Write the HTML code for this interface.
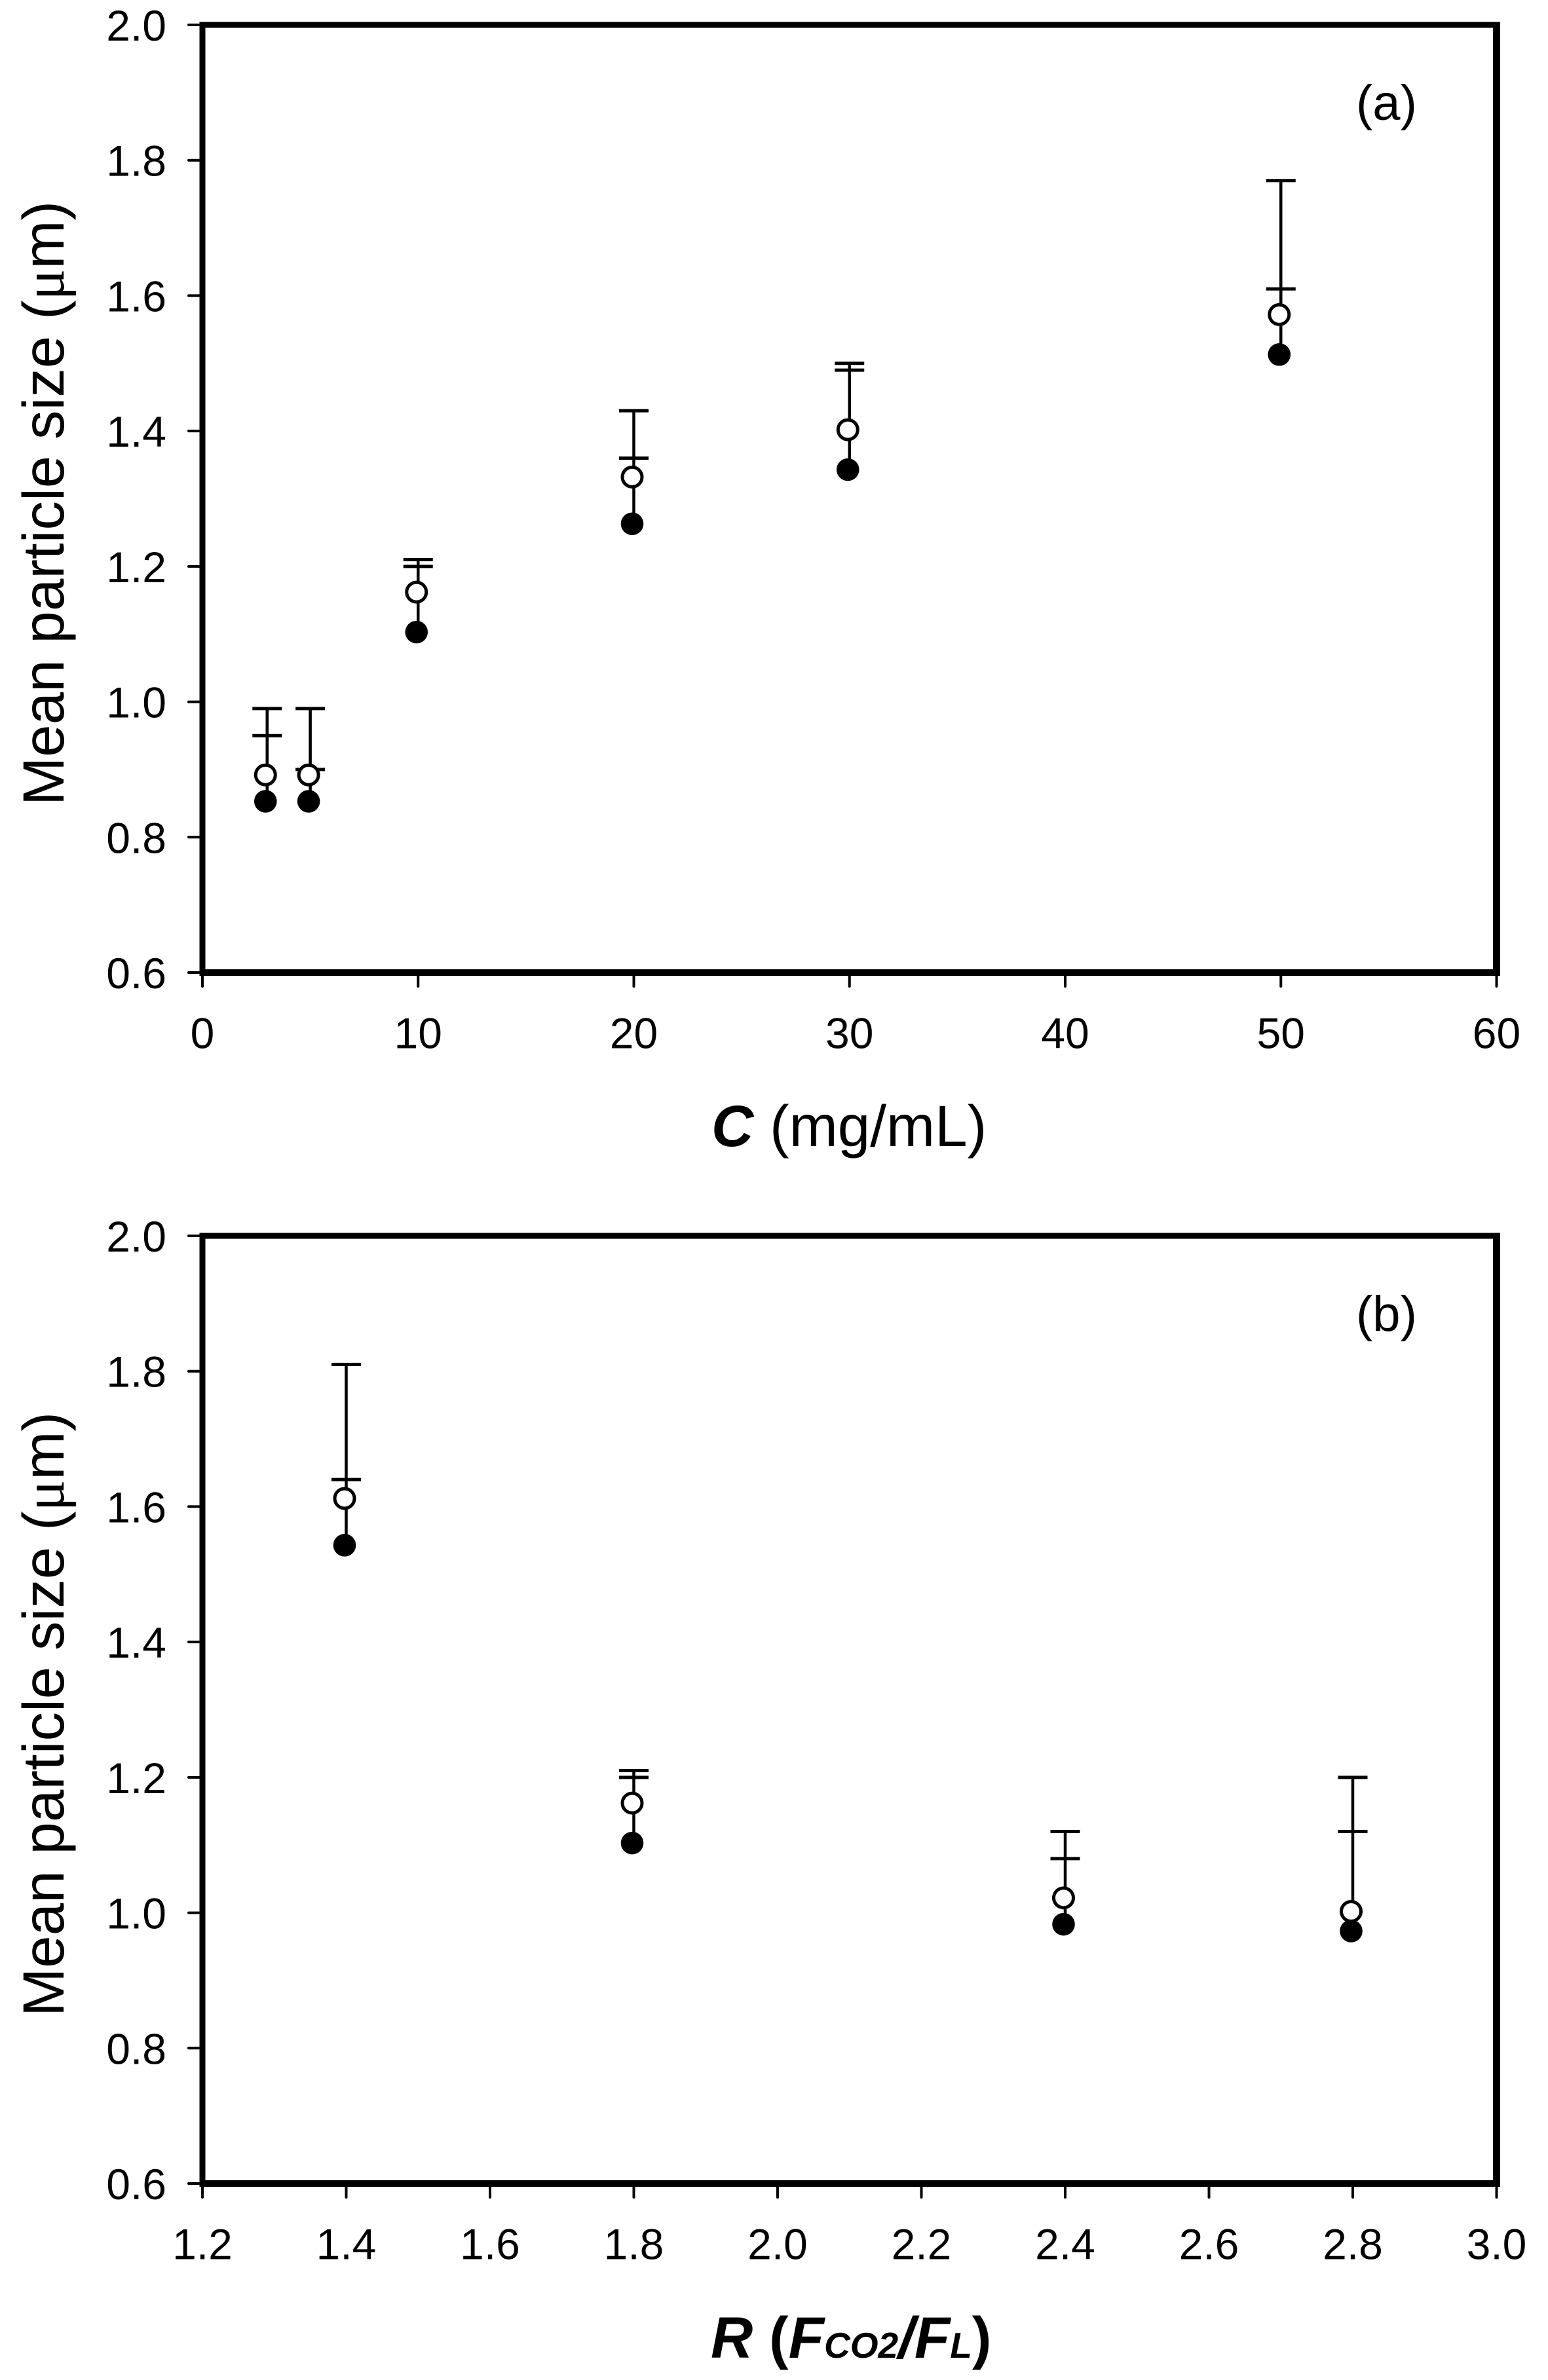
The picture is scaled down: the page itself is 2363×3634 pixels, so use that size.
<!DOCTYPE html>
<html lang="en">
<head>
<meta charset="utf-8">
<title>Mean particle size charts</title>
<style>
html,body{margin:0;padding:0;background:#fff;}
svg{display:block;font-family:"Liberation Sans",Arial,sans-serif;fill:#000;}
</style>
</head>
<body>
<svg id="figure" xmlns="http://www.w3.org/2000/svg" width="2363" height="3634" viewBox="0 0 2363 3634">
  <rect x="0" y="0" width="2363" height="3634" fill="#fff"/>
  <g id="panel-a"></g>
  <g id="panel-b"></g>

  <text transform="translate(97,1230) rotate(-90)" font-size="89">Mean particle size (<tspan font-family="'Liberation Serif',serif">μ</tspan>m)</text>
  <text x="1086" y="1750" font-size="89"><tspan font-weight="bold" font-style="italic">C</tspan> (mg/mL)</text>
  <text x="2070" y="183" font-size="76">(a)</text>

  <text transform="translate(97,3079) rotate(-90)" font-size="89">Mean particle size (<tspan font-family="'Liberation Serif',serif">μ</tspan>m)</text>
  <text x="1085" y="3600" font-size="89" font-weight="bold"><tspan font-style="italic">R</tspan> (<tspan font-style="italic">F</tspan><tspan font-style="italic" font-size="55">CO2</tspan><tspan font-style="italic">/F</tspan><tspan font-style="italic" font-size="55">L</tspan>)</text>
  <text x="2070" y="2032" font-size="76">(b)</text>
</svg>
<script>
// Shared value axis
const yTicks = [0.6, 0.8, 1.0, 1.2, 1.4, 1.6, 1.8, 2.0];
const yTickLabels = ['0.6', '0.8', '1.0', '1.2', '1.4', '1.6', '1.8', '2.0'];

// Panel (a): concentration
const aXTicks = [0, 10, 20, 30, 40, 50, 60];
const aXTickLabels = ['0', '10', '20', '30', '40', '50', '60'];
const aConcentration = [3, 5, 10, 20, 30, 50];
const aOpenSize = [0.892, 0.892, 1.162, 1.332, 1.402, 1.572];
const aFilledSize = [0.853, 0.853, 1.103, 1.263, 1.343, 1.513];
const aOpenUpper = [0.99, 0.99, 1.21, 1.43, 1.50, 1.77];
const aFilledUpper = [0.95, 0.90, 1.20, 1.36, 1.49, 1.61];

// Panel (b): flow ratio
const bXTicks = [1.2, 1.4, 1.6, 1.8, 2.0, 2.2, 2.4, 2.6, 2.8, 3.0];
const bXTickLabels = ['1.2', '1.4', '1.6', '1.8', '2.0', '2.2', '2.4', '2.6', '2.8', '3.0'];
const bRatio = [1.4, 1.8, 2.4, 2.8];
const bOpenSize = [1.612, 1.162, 1.022, 1.002];
const bFilledSize = [1.543, 1.103, 0.983, 0.973];
const bOpenUpper = [1.81, 1.21, 1.12, 1.20];
const bFilledUpper = [1.64, 1.20, 1.08, 1.12];

const NS = 'http://www.w3.org/2000/svg';
function make(parent, tag, attrs) {
  const el = document.createElementNS(NS, tag);
  for (const k in attrs) el.setAttribute(k, attrs[k]);
  parent.appendChild(el);
  return el;
}

function drawPanel(parent, top, xMin, xMax, xTicks, xLabels, xs, openVals, filledVals, openUp, filledUp) {
  const left = 309, right = 2284.5, bottom = top + 1447;
  const yMin = 0.6, yMax = 2.0;
  const xScale = v => left + (v - xMin) / (xMax - xMin) * (right - left);
  const yScale = v => bottom - (v - yMin) / (yMax - yMin) * (bottom - top);

  // Ticks and tick labels
  yTicks.forEach((v, i) => {
    const t = make(parent, 'line', {x1: 288, x2: left, y1: yScale(v), y2: yScale(v), stroke: '#000', 'stroke-width': 4, 'stroke-linecap': 'round'});
    
    
    const l = make(parent, 'text', {x: 254, y: yScale(v) + 24, 'text-anchor': 'end', 'font-size': 66});
    
    
    l.textContent = yTickLabels[i];
  });
  xTicks.forEach((v, i) => {
    const t = make(parent, 'line', {x1: xScale(v), x2: xScale(v), y1: bottom, y2: bottom + 21, stroke: '#000', 'stroke-width': 4, 'stroke-linecap': 'round'});
    
    
    const l = make(parent, 'text', {x: xScale(v), y: bottom + 115.5, 'text-anchor': 'middle', 'font-size': 66});
    
    
    l.textContent = xLabels[i];
  });

  // Plot frame
  const frame = make(parent, 'g', {});
  
  
  const sides = [
    [left - 4.5, top - 4.5, right - left + 10, 9],
    [left - 4.5, bottom - 5, right - left + 10, 10],
    [left - 4.5, top - 4.5, 9, bottom - top + 9],
    [right - 5.5, top - 4.5, 11, bottom - top + 9.5]
  ];
  sides.forEach(s => {
    make(frame, 'rect', {x: s[0], y: s[1], width: s[2], height: s[3], fill: '#000'});
  });

  // Error bars then markers
  xs.forEach((v, i) => {
    const cx = xScale(v);
    const stem = make(parent, 'line', {x1: cx, x2: cx, y1: yScale(filledVals[i]), y2: yScale(Math.max(openUp[i], filledUp[i])), stroke: '#000', 'stroke-width': 4.5});
    
    
    const capOpen = make(parent, 'line', {x1: cx - 22.5, x2: cx + 22.5, y1: yScale(openUp[i]), y2: yScale(openUp[i]), stroke: '#000', 'stroke-width': 5});
    
    
    const capFilled = make(parent, 'line', {x1: cx - 22.5, x2: cx + 22.5, y1: yScale(filledUp[i]), y2: yScale(filledUp[i]), stroke: '#000', 'stroke-width': 5});
    
    
    const open = make(parent, 'circle', {cx: cx - 2.5, cy: yScale(openVals[i]), r: 15, fill: '#fff', stroke: '#000', 'stroke-width': 5});
    
    
    const filled = make(parent, 'circle', {cx: cx - 2.5, cy: yScale(filledVals[i]), r: 17.3, fill: '#000'});
    
    
  });
}

drawPanel(document.getElementById('panel-a'), 38, 0, 60, aXTicks, aXTickLabels, aConcentration, aOpenSize, aFilledSize, aOpenUpper, aFilledUpper);
drawPanel(document.getElementById('panel-b'), 1887, 1.2, 3.0, bXTicks, bXTickLabels, bRatio, bOpenSize, bFilledSize, bOpenUpper, bFilledUpper);
</script>
</body>
</html>
